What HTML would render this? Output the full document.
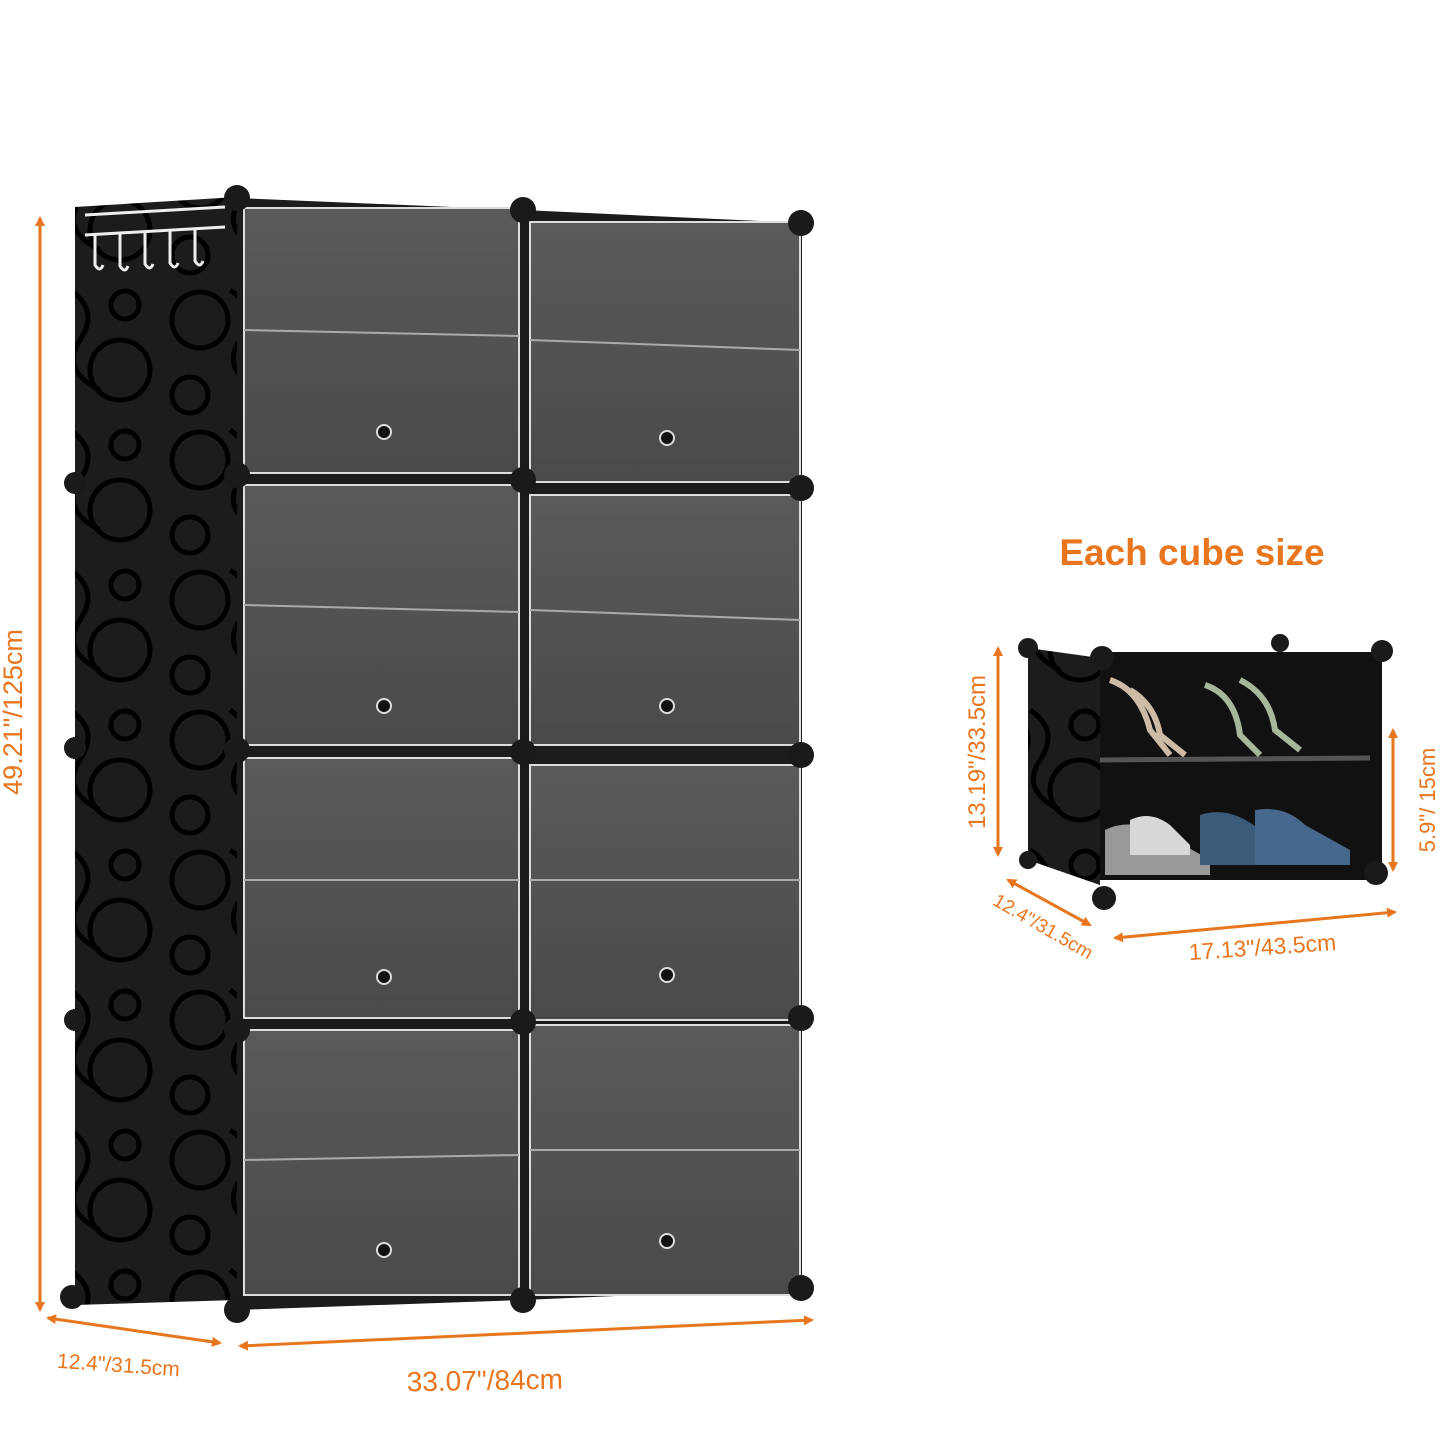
<!DOCTYPE html>
<html><head><meta charset="utf-8"><style>
html,body{margin:0;padding:0;background:#fff;width:1440px;height:1440px;overflow:hidden}
text{font-family:"Liberation Sans",sans-serif;fill:#e8761e}
</style></head><body>
<svg width="1440" height="1440" viewBox="0 0 1440 1440" xmlns="http://www.w3.org/2000/svg">
<defs>
<marker id="ah" markerWidth="10" markerHeight="10" refX="8" refY="5" orient="auto-start-reverse" markerUnits="userSpaceOnUse">
<path d="M0,0 L10,5 L0,10 z" fill="#e8761e"/></marker>
<linearGradient id="door" x1="0" y1="0" x2="0" y2="1">
<stop offset="0" stop-color="#5a5a5a"/><stop offset="1" stop-color="#4a4a4a"/></linearGradient>
<pattern id="sw" width="160" height="140" patternUnits="userSpaceOnUse">
<rect width="160" height="140" fill="#1c1c1c"/>
<g fill="none" stroke="#000" stroke-width="5">
<circle cx="40" cy="40" r="28"/><circle cx="120" cy="90" r="30"/><circle cx="30" cy="115" r="18"/>
<path d="M70 10 q30 20 10 50 q-20 30 20 50"/><circle cx="125" cy="25" r="14"/>
</g></pattern>
</defs>

<polygon points="75,207 237,197 237,1300 75,1305" fill="url(#sw)"/>
<g stroke="#eee" stroke-width="3" fill="none">
<line x1="85" y1="215" x2="225" y2="207"/><line x1="85" y1="235" x2="225" y2="227"/>
<path d="M95 235 v30 q5 8 8 0"/><path d="M120 234 v32 q5 8 8 0"/><path d="M145 232 v32 q5 8 8 0"/><path d="M170 231 v32 q5 8 8 0"/><path d="M195 229 v32 q5 8 8 0"/>
</g>

<polygon points="237,198 523,210 802,223 802,1288 523,1300 237,1310" fill="#1c1c1c"/>
<g stroke="#ddd" stroke-width="2" fill="url(#door)">
<rect x="244" y="208" width="275" height="265"/><rect x="530" y="222" width="270" height="260"/>
<rect x="244" y="485" width="275" height="260"/><rect x="530" y="495" width="270" height="250"/>
<rect x="244" y="758" width="275" height="260"/><rect x="530" y="765" width="270" height="255"/>
<rect x="244" y="1030" width="275" height="265"/><rect x="530" y="1025" width="270" height="270"/>
</g>
<g stroke="#aaa" stroke-width="2">
<line x1="244" y1="330" x2="519" y2="336"/><line x1="530" y1="340" x2="800" y2="350"/>
<line x1="244" y1="605" x2="519" y2="612"/><line x1="530" y1="610" x2="800" y2="620"/>
<line x1="244" y1="880" x2="519" y2="880"/><line x1="530" y1="880" x2="800" y2="880"/>
<line x1="244" y1="1160" x2="519" y2="1155"/><line x1="530" y1="1150" x2="800" y2="1150"/>
</g>
<g fill="#111" stroke="#ddd" stroke-width="2">
<circle cx="384" cy="432" r="7"/><circle cx="667" cy="438" r="7"/>
<circle cx="384" cy="706" r="7"/><circle cx="667" cy="706" r="7"/>
<circle cx="384" cy="977" r="7"/><circle cx="667" cy="975" r="7"/>
<circle cx="384" cy="1250" r="7"/><circle cx="667" cy="1241" r="7"/>
</g>
<g fill="#1a1a1a">
<circle cx="237" cy="198" r="13"/><circle cx="523" cy="210" r="13"/><circle cx="801" cy="223" r="13"/>
<circle cx="75" cy="483" r="11"/><circle cx="237" cy="475" r="13"/><circle cx="523" cy="480" r="13"/><circle cx="801" cy="488" r="13"/>
<circle cx="75" cy="748" r="11"/><circle cx="237" cy="750" r="13"/><circle cx="523" cy="752" r="13"/><circle cx="801" cy="755" r="13"/>
<circle cx="75" cy="1020" r="11"/><circle cx="237" cy="1030" r="13"/><circle cx="523" cy="1022" r="13"/><circle cx="801" cy="1018" r="13"/>
<circle cx="72" cy="1297" r="12"/><circle cx="237" cy="1310" r="13"/><circle cx="523" cy="1300" r="13"/><circle cx="801" cy="1288" r="13"/>
</g>

<g stroke="#e8761e" stroke-width="3" fill="none">
<line x1="40" y1="218" x2="40" y2="1310" marker-start="url(#ah)" marker-end="url(#ah)"/>
<line x1="48" y1="1318" x2="220" y2="1343" marker-start="url(#ah)" marker-end="url(#ah)"/>
<line x1="240" y1="1346" x2="812" y2="1320" marker-start="url(#ah)" marker-end="url(#ah)"/>
</g>
<text x="0" y="0" font-size="27" transform="translate(22,712) rotate(-90)" text-anchor="middle">49.21"/125cm</text>
<text x="0" y="0" font-size="21" transform="translate(118,1372) rotate(4)" text-anchor="middle">12.4"/31.5cm</text>
<text x="0" y="0" font-size="28" transform="translate(485,1390) rotate(-1)" text-anchor="middle">33.07"/84cm</text>

<text x="1192" y="565" font-size="37" text-anchor="middle" font-weight="600">Each cube size</text>
<polygon points="1028,648 1100,658 1100,885 1028,860" fill="url(#sw)"/>
<rect x="1100" y="652" width="282" height="228" fill="#111"/>
<line x1="1100" y1="760" x2="1370" y2="758" stroke="#555" stroke-width="5"/>
<g stroke-width="6" fill="none">
<path d="M1110 680 q30 10 40 50 l20 25 M1130 690 q25 15 30 45 l25 20" stroke="#cdbba6"/>
<path d="M1205 685 q30 10 35 50 l20 20 M1240 680 q30 15 35 50 l25 20" stroke="#a7b79a"/>
</g>
<path d="M1105 830 q30 -15 70 10 l35 20 v15 h-105z" fill="#999"/>
<path d="M1130 820 q20 -10 40 5 l20 20 v10 h-60z" fill="#d8d8d8"/>
<path d="M1200 815 q30 -10 60 15 l30 20 v15 h-90z" fill="#3c5a7a"/>
<path d="M1255 810 q30 -5 50 15 l45 25 v15 h-95z" fill="#46688c"/>
<g fill="#1a1a1a">
<circle cx="1028" cy="648" r="10"/><circle cx="1102" cy="658" r="12"/><circle cx="1280" cy="643" r="9"/><circle cx="1382" cy="651" r="11"/>
<circle cx="1028" cy="860" r="9"/><circle cx="1104" cy="898" r="12"/><circle cx="1376" cy="873" r="12"/>
</g>
<g stroke="#e8761e" stroke-width="3" fill="none">
<line x1="998" y1="648" x2="998" y2="855" marker-start="url(#ah)" marker-end="url(#ah)"/>
<line x1="1393" y1="730" x2="1393" y2="870" marker-start="url(#ah)" marker-end="url(#ah)"/>
<line x1="1008" y1="880" x2="1090" y2="925" marker-start="url(#ah)" marker-end="url(#ah)"/>
<line x1="1115" y1="938" x2="1395" y2="912" marker-start="url(#ah)" marker-end="url(#ah)"/>
</g>
<text x="0" y="0" font-size="24" transform="translate(985,752) rotate(-90)" text-anchor="middle">13.19"/33.5cm</text>
<text x="0" y="0" font-size="22" transform="translate(1435,800) rotate(-90)" text-anchor="middle">5.9"/ 15cm</text>
<text x="0" y="0" font-size="19" transform="translate(1040,932) rotate(30)" text-anchor="middle">12.4"/31.5cm</text>
<text x="0" y="0" font-size="23" transform="translate(1263,955) rotate(-4)" text-anchor="middle">17.13"/43.5cm</text>
</svg>
</body></html>
